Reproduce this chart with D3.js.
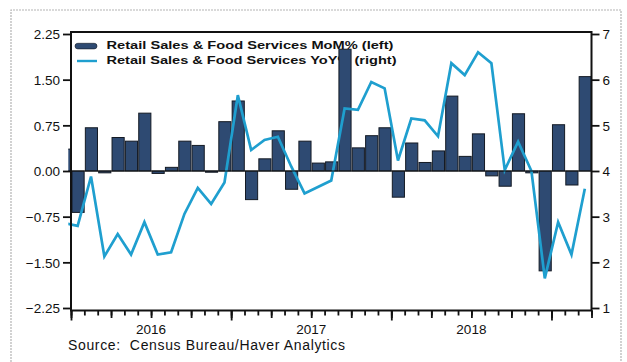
<!DOCTYPE html>
<html>
<head>
<meta charset="utf-8">
<script src="https://cdn.jsdelivr.net/npm/d3@7"></script>
<style>
  html, body { margin: 0; padding: 0; background: #fff; }
  svg { display: block; }
  text { font-family: "Liberation Sans", Arial, sans-serif; fill: #111; }
</style>
</head>
<body>
<svg id="chart" width="627" height="362"></svg>
<script>
// Months shown (Dec 2015 sits just off the left edge and is clipped)
const months = [
  "2015-12",
  "2016-01","2016-02","2016-03","2016-04","2016-05","2016-06",
  "2016-07","2016-08","2016-09","2016-10","2016-11","2016-12",
  "2017-01","2017-02","2017-03","2017-04","2017-05","2017-06",
  "2017-07","2017-08","2017-09","2017-10","2017-11","2017-12",
  "2018-01","2018-02","2018-03","2018-04","2018-05","2018-06",
  "2018-07","2018-08","2018-09","2018-10","2018-11","2018-12",
  "2019-01","2019-02","2019-03"
];

// Retail Sales & Food Services, % change month over month (left axis)
const momPct = [
  0.36,
  -0.68, 0.71, -0.03, 0.55, 0.49, 0.95, -0.04, 0.06, 0.49, 0.42, -0.02, 0.81,
  1.15, -0.47, 0.20, 0.66, -0.30, 0.49, 0.13, 0.15, 2.00, 0.38, 0.58, 0.71,
  -0.43, 0.46, 0.14, 0.33, 1.23, 0.24, 0.61, -0.08, -0.25, 0.94, -0.03, -1.64,
  0.76, -0.23, 1.55
];

// Retail Sales & Food Services, % change year over year (right axis)
const yoyPct = [
  2.86,
  2.80, 3.88, 2.13, 2.62, 2.17, 2.88, 2.17, 2.22, 3.06, 3.63, 3.28, 3.75,
  5.66, 4.46, 4.68, 4.75, 4.10, 3.51, 3.65, 3.79, 5.37, 5.34, 5.95, 5.81,
  4.23, 5.15, 5.11, 4.76, 6.36, 6.10, 6.60, 6.36, 4.02, 4.64, 4.00, 1.65,
  2.88, 2.17, 3.61
];

const leftTicks = [-2.25, -1.50, -0.75, 0.00, 0.75, 1.50, 2.25];
const rightTicks = [1, 2, 3, 4, 5, 6, 7];
const yearLabels = ["2016", "2017", "2018"];
const legendLabels = [
  "Retail Sales & Food Services MoM% (left)",
  "Retail Sales & Food Services YoY% (right)"
];
const sourceText = "Source:  Census Bureau/Haver Analytics";

const BAR_FILL = "#2e4a72";
const BAR_EDGE = "#141a24";
const LINE_COL = "#1f9fcf";

const svg = d3.select("#chart");
const parse = d3.timeParse("%Y-%m");
const start = parse("2016-01");
const monthIndex = s => d3.timeMonth.count(start, parse(s));
const nMonths = monthIndex(months[months.length - 1]) + 1;

// Scales: x in months since Jan 2016, both y axes share one vertical span
const x = d3.scaleLinear().domain([0, nMonths]).range([71, 591.5]);
const yL = d3.scaleLinear().domain([-2.25, 2.25]).range([308, 34]);
const yR = d3.scaleLinear().domain([1, 7]).range([308, 34]);
const step = x(1) - x(0);

const plotTop = yL(2.25) - 2;
const plotBottom = yL(-2.25) + 2.5;

// Light dotted page frame
svg.append("path")
  .attr("d", "M11,362 L11,10 L621,10 L621,362")
  .attr("fill", "none")
  .attr("stroke", "#b4b4b4")
  .attr("stroke-width", 1.2)
  .attr("stroke-dasharray", "2,1");

// Legend (drawn first so the bars sit over it)
const lg = svg.append("g");
lg.append("rect")
  .attr("x", x(0) + 4).attr("y", 43.3)
  .attr("width", 22).attr("height", 5.6)
  .attr("rx", 2.8)
  .attr("fill", BAR_FILL).attr("stroke", BAR_EDGE).attr("stroke-width", 0.6);
lg.append("line")
  .attr("x1", x(0) + 6).attr("x2", x(0) + 26)
  .attr("y1", 61).attr("y2", 61)
  .attr("stroke", LINE_COL).attr("stroke-width", 2.4);
lg.selectAll("text.leg").data(legendLabels).join("text")
  .attr("class", "leg")
  .attr("x", 106.5)
  .attr("y", (d, i) => 49 + i * 15)
  .attr("font-size", 11)
  .attr("font-weight", "bold")
  .attr("textLength", (d, i) => i === 0 ? 287 : 290)
  .attr("lengthAdjust", "spacingAndGlyphs")
  .text(d => d);

// Clip so the leading month only peeks past the left axis
svg.append("clipPath").attr("id", "plotclip")
  .append("rect")
  .attr("x", x(0) - 2.7).attr("y", plotTop)
  .attr("width", x(nMonths) - x(0) + 2.7)
  .attr("height", plotBottom - plotTop);

const plot = svg.append("g").attr("clip-path", "url(#plotclip)");

const rows = months.map((m, i) => ({ m: monthIndex(m), mom: momPct[i], yoy: yoyPct[i] }));

// MoM bars
plot.selectAll("rect.bar").data(rows).join("rect")
  .attr("class", "bar")
  .attr("x", d => x(d.m) + 1)
  .attr("width", step - 1.2)
  .attr("y", d => yL(Math.max(0, d.mom)))
  .attr("height", d => Math.abs(yL(d.mom) - yL(0)))
  .attr("fill", BAR_FILL)
  .attr("stroke", BAR_EDGE)
  .attr("stroke-width", 1);

// Zero line
svg.append("line")
  .attr("x1", x(0)).attr("x2", x(nMonths))
  .attr("y1", yL(0)).attr("y2", yL(0))
  .attr("stroke", "#111").attr("stroke-width", 1.2);

// YoY line
plot.append("path")
  .datum(rows)
  .attr("fill", "none")
  .attr("stroke", LINE_COL)
  .attr("stroke-width", 2.7)
  .attr("stroke-linejoin", "miter")
  .attr("d", d3.line().x(d => x(d.m + 0.5)).y(d => yR(d.yoy)));

// Frame
svg.append("rect")
  .attr("x", x(0)).attr("y", plotTop)
  .attr("width", x(nMonths) - x(0))
  .attr("height", plotBottom - plotTop)
  .attr("fill", "none")
  .attr("stroke", "#111")
  .attr("stroke-width", 2);

// Left axis
const axL = svg.append("g")
  .attr("transform", `translate(${x(0)},0)`)
  .call(d3.axisLeft(yL).tickValues(leftTicks).tickFormat(d3.format(".2f"))
    .tickSize(8).tickPadding(3));
axL.select(".domain").remove();
axL.selectAll(".tick line").attr("stroke", "#111").attr("stroke-width", 1.8);
axL.selectAll(".tick text")
  .attr("font-size", 13.5).attr("font-family", "Liberation Sans, Arial, sans-serif")
  .attr("fill", "#111").attr("dy", "0.36em");

// Right axis
const axR = svg.append("g")
  .attr("transform", `translate(${x(nMonths)},0)`)
  .call(d3.axisRight(yR).tickValues(rightTicks).tickFormat(d3.format("d"))
    .tickSize(8).tickPadding(3));
axR.select(".domain").remove();
axR.selectAll(".tick line").attr("stroke", "#111").attr("stroke-width", 1.8);
axR.selectAll(".tick text")
  .attr("font-size", 13.5).attr("font-family", "Liberation Sans, Arial, sans-serif")
  .attr("fill", "#111").attr("dy", "0.36em");

// Bottom axis: monthly, quarterly and yearly tick marks
const allMonths = d3.range(0, nMonths + 1);
[
  { vals: allMonths, size: 5 },
  { vals: allMonths.filter(m => m % 3 === 0), size: 7.5 },
  { vals: allMonths.filter(m => m % 12 === 0), size: 10 }
].forEach(t => {
  const g = svg.append("g")
    .attr("transform", `translate(0,${plotBottom})`)
    .call(d3.axisBottom(x).tickValues(t.vals).tickSize(t.size).tickFormat(""));
  g.select(".domain").remove();
  g.selectAll(".tick line").attr("stroke", "#111").attr("stroke-width", 1.8);
});

// Year labels centred on each year
svg.selectAll("text.year").data(yearLabels).join("text")
  .attr("class", "year")
  .attr("x", (d, i) => x(i * 12 + 6))
  .attr("y", 334)
  .attr("text-anchor", "middle")
  .attr("font-size", 13.5)
  .text(d => d);

// Source note
svg.append("text")
  .attr("x", 68)
  .attr("y", 349.5)
  .attr("font-size", 14)
  .attr("textLength", 277)
  .attr("lengthAdjust", "spacing")
  .attr("xml:space", "preserve")
  .style("white-space", "pre")
  .text(sourceText);
</script>
</body>
</html>
